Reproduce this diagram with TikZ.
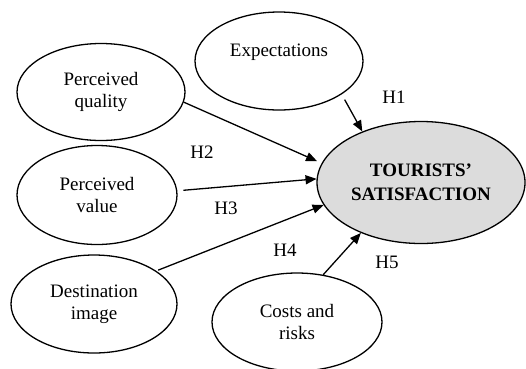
\documentclass[tikz,border=0pt]{standalone}
\usepackage{fontspec}
\setmainfont{Liberation Serif}
\usetikzlibrary{shapes.geometric,arrows.meta}
\definecolor{tsgray}{HTML}{DCDCDC}
\begin{document}
\begin{tikzpicture}[x=1pt,y=-1pt,
  every node/.style={font=\fontsize{19}{22}\selectfont},
  construct/.style={ellipse, draw, line width=1.3pt, inner sep=0pt, align=center},
  hyp/.style={-{Triangle[length=11pt,width=9pt]}, line width=1.3pt},
  hlabel/.style={inner sep=0pt}]
\useasboundingbox (0,0) rectangle (526,368);
\node[construct, minimum width=168pt, minimum height=98pt] (exp) at (279,61) {Expectations\\\phantom{x}};
\node[construct, minimum width=168pt, minimum height=97pt] (pq) at (101,92) {Perceived\\quality};
\node[construct, minimum width=160pt, minimum height=99pt] (pv) at (97,195) {Perceived\\value};
\node[construct, minimum width=166pt, minimum height=98pt] (di) at (94,304) {Destination\\image};
\node[construct, minimum width=170pt, minimum height=98pt] (cr) at (297,322) {Costs and\\risks};
\node[construct, fill=tsgray, minimum width=208pt, minimum height=122pt,
      font=\fontsize{19}{24}\selectfont\bfseries] (ts) at (421,182.5) {TOURISTS’\\SATISFACTION};
\draw[hyp, shorten <=6pt] (exp.-28) -- (ts.139);
\draw[hyp, shorten >=5pt] (pq.-7) -- (ts.169);
\draw[hyp, shorten <=6pt] (pv.3) -- (ts.178);
\draw[hyp, shorten <=2pt] (di.28) -- (ts.193);
\draw[hyp] (cr.61) -- (ts.220);
\node[hlabel] (h1) at (394,97) {H1};
\node[hlabel] (h2) at (202,152) {H2};
\node[hlabel] (h3) at (226,208) {H3};
\node[hlabel] (h4) at (285,250) {H4};
\node[hlabel] (h5) at (387,262) {H5};
\end{tikzpicture}
\end{document}
